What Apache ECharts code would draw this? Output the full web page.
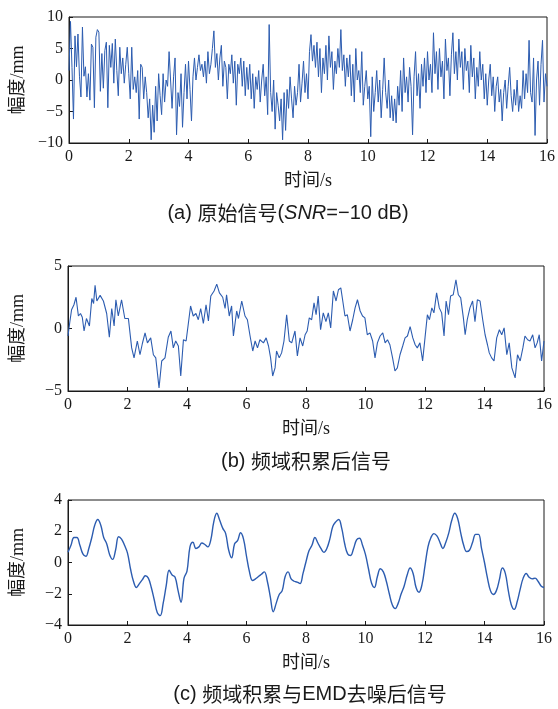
<!DOCTYPE html>
<html><head><meta charset="utf-8">
<script src="https://cdn.jsdelivr.net/npm/echarts@6/dist/echarts.min.js"></script>
<style>html,body{margin:0;padding:0;background:#fff}#c{width:558px;height:709px}</style>
</head><body><div id="c"></div>
<script>
// ---- data ----
const xTicks = [0, 2, 4, 6, 8, 10, 12, 14, 16];
const yTicksA = [-10, -5, 0, 5, 10];
const yTicksB = [-5, 0, 5];
const yTicksC = [-4, -2, 0, 2, 4];

// (a) raw signal, sampled every 0.05 s from 0 to 16 s
const vA = [
 1.5, 9.3, 2.0, -6.2, 7.0, 2.1, 7.3, 0.6, -2.7, 8.4, 0.6, 2.1, -2.7, 1.0, -3.2, 5.7, 5.2, -4.4, 6.8, 8.0,
 7.6, -1.8, 4.2, -1.3, 4.7, 6.0, -4.4, 5.5, 2.0, 5.8, -0.5, 6.5, 1.5, -2.5, 5.2, 1.0, 3.5, -0.5, 2.5, 5.2,
 1.0, -3.0, 5.2, -1.5, 0.5, -2.0, 1.5, -6.2, 2.5, 2.0, -3.0, 0.5, -2.0, -6.0, -3.0, -9.5, -4.0, -8.3, -1.0, -6.5,
 1.0, -2.5, -5.5, 1.0, -3.5, 0.0, -1.0, 4.5, 0.0, -4.5, 0.5, 3.5, -8.7, -2.0, -4.2, 1.0, -7.5, -2.0, 2.5, -3.0,
 3.0, -1.5, -6.5, 0.5, 3.5, 0.0, 2.0, 4.0, 1.5, 2.5, 0.5, 3.0, -0.5, 4.5, 1.0, 2.5, 5.0, 7.8, 2.0, 4.2,
 0.0, 3.5, 5.5, -1.0, 3.0, 2.0, -3.0, 2.5, 1.0, 4.0, -0.5, 3.0, -4.0, 2.5, 1.0, 3.5, -1.0, 3.0, -2.5, 2.0,
 -1.5, 2.5, -3.0, 1.0, -4.5, 0.5, -1.5, 1.5, -3.5, 0.0, 2.5, -2.5, 0.5, -5.5, 8.8, -2.0, -5.0, 0.0, -7.8, -2.0,
 -4.0, -6.5, -3.0, -9.5, -2.0, -8.0, -1.5, -4.5, 0.5, -3.0, -6.0, -1.0, -4.0, -2.0, 2.5, -3.5, -0.5, 3.0, -2.0, 1.0,
 -3.0, 4.5, 7.2, 3.0, 5.5, 2.0, 6.0, 0.5, 5.0, -2.0, 3.5, 1.0, 5.5, 0.0, 7.0, 2.0, 4.5, -1.5, 3.0, 1.0,
 5.0, 2.0, 8.0, 1.5, 4.0, -1.0, 3.5, 0.5, 4.0, -2.5, 2.5, -3.5, 5.0, 0.0, 1.5, -2.0, 4.5, -4.0, -1.0, 1.5,
 -3.0, -1.0, -9.0, 0.5, -5.0, -2.0, 1.5, -3.5, 0.0, -6.0, -1.5, 3.5, -2.0, -4.5, 0.0, -6.0, -2.5, -6.5, -3.0, -6.8,
 -1.0, -4.0, 1.5, -5.0, 3.5, -2.0, 0.5, -3.5, 2.0, -1.0, -8.7, 0.5, 4.5, -2.5, 1.0, -4.5, 2.5, -1.0, 3.5, -2.0,
 4.5, 0.0, 2.5, -2.0, 7.5, 1.0, 4.5, -1.5, 5.0, 0.5, 3.0, -3.0, 6.5, 1.5, 3.5, -2.5, 4.0, 7.5, 1.0, 4.5,
 0.0, 6.5, 2.0, 4.5, -1.5, 5.0, 1.5, 3.0, -2.0, 5.5, 0.5, 3.5, -3.0, 2.0, -1.0, 4.5, 0.0, 2.5, -3.0, 1.0,
 -4.0, 0.0, 2.5, -2.5, 0.5, -5.0, -1.0, 0.5, -3.5, -1.5, -6.5, -2.0, 0.0, -4.5, -1.0, 2.0, -2.5, -5.0, -1.5, -4.0,
 0.0, -5.0, -2.5, -4.5, 1.5, -3.0, 1.0, -2.0, 6.3, -2.0, -3.5, 3.5, -8.8, 0.0, 3.0, -4.0, 2.5, 6.3, -3.5, 1.0,
 -1.0
];

// (b) after frequency-domain accumulation: times (s) and values (mm)
const tB = [0.00,0.06,0.12,0.20,0.27,0.35,0.42,0.48,0.54,0.62,0.72,0.80,0.86,0.91,0.97,1.08,1.19,1.30,1.39,1.47,
 1.55,1.61,1.69,1.80,1.91,2.03,2.14,2.22,2.33,2.42,2.50,2.59,2.67,2.78,2.87,2.95,3.06,3.15,3.26,3.37,
 3.46,3.54,3.62,3.71,3.79,3.88,3.97,4.04,4.12,4.21,4.30,4.38,4.46,4.55,4.64,4.72,4.80,4.91,5.00,5.09,
 5.20,5.28,5.33,5.42,5.50,5.56,5.67,5.73,5.84,5.95,6.03,6.12,6.21,6.29,6.37,6.45,6.57,6.66,6.74,6.81,
 6.88,6.96,7.01,7.10,7.18,7.26,7.35,7.44,7.52,7.63,7.71,7.80,7.89,7.97,8.04,8.11,8.19,8.27,8.34,8.41,
 8.49,8.58,8.67,8.75,8.83,8.92,9.01,9.09,9.17,9.23,9.31,9.39,9.48,9.57,9.65,9.73,9.82,9.90,9.98,10.06,
 10.15,10.24,10.32,10.40,10.49,10.58,10.66,10.74,10.82,10.91,10.99,11.07,11.16,11.25,11.33,11.41,11.50,11.59,11.67,11.74,
 11.83,11.92,12.00,12.08,12.15,12.23,12.30,12.39,12.48,12.56,12.64,12.71,12.79,12.86,12.95,13.04,13.12,13.20,13.29,13.35,
 13.42,13.51,13.60,13.68,13.76,13.85,13.94,14.02,14.10,14.16,14.24,14.32,14.41,14.50,14.58,14.66,14.75,14.83,14.92,15.03,
 15.11,15.20,15.29,15.36,15.45,15.53,15.62,15.70,15.77,15.84,15.92,16.00];
const vB = [-0.6,0.5,1.5,1.9,2.5,1.0,1.2,0.9,-0.2,0.8,0.2,2.4,2.0,3.45,2.2,2.65,2.2,1.2,-0.7,1.6,
 0.2,2.3,1.0,2.3,0.8,0.8,-1.55,-2.35,-1.0,-2.1,-1.2,-0.35,-1.15,-0.75,-2.1,-2.35,-4.75,-2.6,-2.35,-0.7,
 -0.2,-1.55,-1.0,-1.4,-3.8,-0.9,-1.0,0.3,1.8,1.0,1.2,0.7,1.6,0.4,1.9,0.6,2.6,3.0,3.55,2.85,
 2.5,1.6,2.7,1.0,1.8,-0.6,1.4,0.8,2.2,1.0,0.7,-0.6,-1.8,-1.0,-1.55,-0.9,-1.15,-0.75,-1.4,-2.35,
 -3.8,-3.15,-1.8,-2.35,-1.95,-1.0,1.1,-1.0,-1.15,-0.2,-2.2,-0.75,-1.4,-0.5,-0.2,0.85,0.7,2.05,1.1,2.6,
 -0.1,1.25,0.55,1.25,0.05,3.0,2.2,3.1,3.25,2.3,1.0,1.1,-0.2,0.7,1.65,2.3,1.4,1.0,0.85,-0.5,
 -0.35,-1.0,-2.35,-1.15,-0.6,-0.35,-1.15,-0.9,-1.3,-2.35,-3.4,-3.15,-2.1,-1.4,-0.75,-0.6,0.15,-0.75,-1.3,-1.55,
 -1.15,-2.6,-0.75,1.1,0.7,1.65,1.25,2.85,1.65,1.25,-0.6,2.2,1.1,2.6,2.7,3.9,2.7,2.45,0.85,-0.5,
 0.7,1.65,2.2,0.55,2.3,2.2,0.7,-0.5,-1.3,-1.95,-2.35,-2.6,-0.75,-0.1,-0.5,0.05,-2.1,-1.15,-3.15,-3.95,
 -2.1,-2.6,-1.55,-0.6,-0.9,-1.0,-0.5,-1.55,-1.15,-0.5,-2.6,-1.0];

// (c) after accumulation + EMD denoising, sampled every 0.1 s from 0 to 16 s
const vC = [
 0.65, 1.1, 1.6, 1.6, 1.1, 0.55, 0.4, 0.9, 1.6, 2.4,
 2.75, 2.4, 1.6, 1.2, 0.5, 0.2, 0.8, 1.65, 1.5, 1.1,
 0.6, -0.4, -1.2, -1.6, -1.35, -1.1, -0.85, -1.0, -1.6, -2.4,
 -3.2, -3.4, -2.6, -1.5, -0.5, -0.8, -0.95, -1.8, -2.55, -1.0,
 -0.55, 1.0, 1.3, 0.9, 1.0, 1.25, 1.15, 1.0, 1.45, 2.6,
 3.15, 2.7, 2.2, 1.85, 0.8, 0.3, 1.2, 1.4, 1.9, 1.5,
 0.4, -0.6, -1.15, -1.05, -0.9, -0.75, -0.6, -1.2, -2.2, -3.15,
 -2.6, -2.05, -1.8, -0.9, -0.6, -1.05, -1.2, -1.25, -1.35, -0.7,
 0.05, 0.75, 1.1, 1.6, 1.25, 0.9, 0.65, 0.9, 1.5, 2.3,
 2.6, 2.75, 2.2, 1.2, 0.55, 0.45, 0.9, 1.45, 1.55, 1.1,
 0.5, -0.4, -1.3, -1.6, -0.9, -0.4, -0.6, -1.2, -2.0, -2.7,
 -2.95, -2.6, -2.0, -1.5, -0.8, -0.35, -0.7, -1.6, -1.9, -1.4,
 -0.2, 1.0, 1.6, 1.85, 1.7, 1.3, 0.9, 1.3, 1.9, 2.7,
 3.15, 2.8, 1.9, 1.1, 0.7, 0.8, 1.3, 1.8, 1.8, 0.9,
 0.0, -1.0, -1.8, -2.05, -1.8, -1.1, -0.35, -0.7, -1.8, -2.7,
 -3.0, -2.5, -1.7, -1.0, -0.7, -0.95, -1.05, -1.0, -1.2, -1.5,
 -1.6
];

const xName = '时间/s';
const yName = '幅度/mm';

// ---- chart ----
const SERIF = '"Liberation Serif","Noto Sans CJK SC",serif';
const CJK = '"Noto Sans CJK SC",sans-serif';
const LAT = '"Liberation Sans","Noto Sans",sans-serif';
const LINE = '#2c5cb0';
const AX = '#1a1a1a';

const pairs = (ts, vs) => vs.map((v, i) => [ts[i], v]);
const tA = vA.map((_, i) => i * 16 / (vA.length - 1));
const tC = vC.map((_, i) => i * 16 / (vC.length - 1));

const grids = [
  {left: 69, top: 17, width: 478, height: 126},
  {left: 68, top: 266, width: 476, height: 125},
  {left: 68, top: 500, width: 476, height: 125}
];
const yRanges = [[yTicksA, 5], [yTicksB, 5], [yTicksC, 2]];

const rich = {
  l: {fontFamily: LAT, fontSize: 20, fill: AX, color: AX},
  c: {fontFamily: CJK, fontSize: 20, fill: AX, color: AX},
  i: {fontFamily: LAT, fontStyle: 'italic', fontSize: 20, fill: AX, color: AX}
};
const cap = (x, y, text) => ({type: 'text', x: x, y: y,
  style: {text: text, rich: rich, align: 'center', verticalAlign: 'middle'}});

const chart = echarts.init(document.getElementById('c'), null, {renderer: 'canvas'});
const option = {
  backgroundColor: '#fff',
  animation: false,
  grid: grids.map(g => Object.assign({show: true, borderColor: AX, borderWidth: 1, backgroundColor: 'transparent'}, g)),
  xAxis: grids.map((g, i) => ({
    type: 'value', gridIndex: i, min: xTicks[0], max: xTicks[xTicks.length - 1], interval: 2,
    name: xName, nameLocation: 'middle', nameGap: 29,
    nameTextStyle: {fontFamily: SERIF, fontSize: 18, color: AX},
    axisLine: {show: true, onZero: false, lineStyle: {color: AX, width: 1}},
    axisTick: {show: true, inside: true, length: 4, lineStyle: {color: AX}},
    axisLabel: {fontFamily: SERIF, fontSize: 16, color: AX, margin: 6},
    splitLine: {show: false}
  })),
  yAxis: grids.map((g, i) => {
    const t = yRanges[i][0];
    return {
      type: 'value', gridIndex: i, min: t[0], max: t[t.length - 1], interval: yRanges[i][1],
      name: yName, nameLocation: 'middle', nameGap: i === 0 ? 42 : 41,
      nameTextStyle: {fontFamily: SERIF, fontSize: 18, color: AX},
      axisLine: {show: true, onZero: false, lineStyle: {color: AX, width: 1}},
      axisTick: {show: true, inside: true, length: 4, lineStyle: {color: AX}},
      axisLabel: {fontFamily: SERIF, fontSize: 16, color: AX, margin: 6,
        formatter: v => String(v).replace('-', '\u2212')},
      splitLine: {show: false}
    };
  }),
  series: [
    {type: 'line', xAxisIndex: 0, yAxisIndex: 0, data: pairs(tA, vA), symbol: 'none',
     lineStyle: {color: LINE, width: 1}},
    {type: 'line', xAxisIndex: 1, yAxisIndex: 1, data: pairs(tB, vB), symbol: 'none',
     lineStyle: {color: LINE, width: 1.1}},
    {type: 'line', xAxisIndex: 2, yAxisIndex: 2, data: pairs(tC, vC), symbol: 'none', smooth: 0.4,
     lineStyle: {color: LINE, width: 1.4}}
  ],
  graphic: [
    cap(288, 213, '{l|(a) }{c|原始信号}{l|(}{i|SNR}{l|=\u221210 dB)}'),
    cap(306, 461, '{l|(b) }{c|频域积累后信号}'),
    cap(310, 694, '{l|(c) }{c|频域积累与}{l|EMD}{c|去噪后信号}')
  ]
};
chart.setOption(option);
</script>
</body></html>
